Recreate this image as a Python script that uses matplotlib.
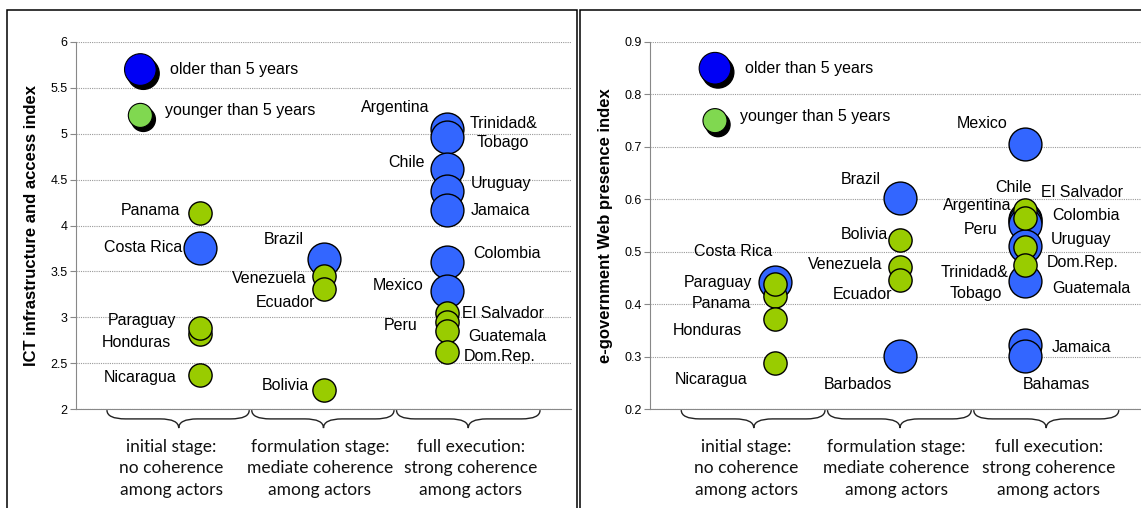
import matplotlib
matplotlib.use("Agg")
import matplotlib.pyplot as plt
from matplotlib.path import Path
from matplotlib.patches import PathPatch, Rectangle
from matplotlib import transforms

plt.rcParams['font.family'] = ['Liberation Sans', 'DejaVu Sans']

# ---------- datos: panel izquierdo (ICT infrastructure and access index) ----------
ict_old_names = ['Costa Rica', 'Brazil', 'Argentina', 'Trinidad&Tobago', 'Chile', 'Uruguay',
                 'Jamaica', 'Colombia', 'Mexico']
ict_old_stage = [1, 2, 3, 3, 3, 3, 3, 3, 3]
ict_old_vals = [3.75, 3.64, 5.05, 4.97, 4.62, 4.38, 4.17, 3.60, 3.29]

ict_young_names = ['Panama', 'Honduras', 'Paraguay', 'Nicaragua', 'Venezuela', 'Ecuador', 'Bolivia',
                   'El Salvador', 'Peru', 'Guatemala', 'Dom.Rep.']
ict_young_stage = [1, 1, 1, 1, 2, 2, 2, 3, 3, 3, 3]
ict_young_vals = [4.14, 2.82, 2.88, 2.37, 3.45, 3.31, 2.21, 3.05, 2.95, 2.85, 2.62]

# ---------- datos: panel derecho (e-government Web presence index) ----------
web_old_names = ['Costa Rica', 'Brazil', 'Barbados', 'Mexico', 'Chile', 'Argentina', 'Colombia',
                 'Uruguay', 'Trinidad&Tobago', 'Jamaica', 'Bahamas']
web_old_stage = [1, 2, 2, 3, 3, 3, 3, 3, 3, 3, 3]
web_old_vals = [0.442, 0.602, 0.301, 0.705, 0.562, 0.558, 0.553, 0.510, 0.445, 0.322, 0.301]

web_young_names = ['Panama', 'Paraguay', 'Honduras', 'Nicaragua', 'Bolivia', 'Venezuela', 'Ecuador',
                   'El Salvador', 'Peru', 'Guatemala', 'Dom.Rep.']
web_young_stage = [1, 1, 1, 1, 2, 2, 2, 3, 3, 3, 3]
web_young_vals = [0.416, 0.438, 0.372, 0.288, 0.522, 0.470, 0.446, 0.580, 0.564, 0.509, 0.475]

stage_labels = ['initial stage:\nno coherence\namong actors',
                'formulation stage:\nmediate coherence\namong actors',
                'full execution:\nstrong coherence\namong actors']
legend_labels = ['older than 5 years', 'younger than 5 years']

# etiquetas de países: (texto, x, y, alineación)
ict_labels = [
    ('Panama', 0.84, 4.16, 'right'), ('Costa Rica', 0.86, 3.76, 'right'),
    ('Paraguay', 0.81, 2.97, 'right'), ('Honduras', 0.77, 2.72, 'right'),
    ('Nicaragua', 0.81, 2.34, 'right'),
    ('Brazil', 1.84, 3.85, 'right'), ('Venezuela', 1.86, 3.42, 'right'),
    ('Ecuador', 1.93, 3.16, 'right'), ('Bolivia', 1.88, 2.26, 'right'),
    ('Argentina', 2.86, 5.29, 'right'), ('Trinidad&', 3.18, 5.11, 'left'),
    ('Tobago', 3.24, 4.90, 'left'), ('Chile', 2.82, 4.69, 'right'),
    ('Uruguay', 3.19, 4.46, 'left'), ('Jamaica', 3.19, 4.16, 'left'),
    ('Colombia', 3.21, 3.70, 'left'), ('Mexico', 2.81, 3.35, 'right'),
    ('El Salvador', 3.12, 3.04, 'left'), ('Peru', 2.76, 2.91, 'right'),
    ('Guatemala', 3.17, 2.79, 'left'), ('Dom.Rep.', 3.13, 2.57, 'left'),
]
web_labels = [
    ('Costa Rica', 0.98, 0.500, 'right'), ('Paraguay', 0.82, 0.442, 'right'),
    ('Panama', 0.81, 0.402, 'right'), ('Honduras', 0.74, 0.349, 'right'),
    ('Nicaragua', 0.78, 0.257, 'right'),
    ('Brazil', 1.85, 0.637, 'right'), ('Bolivia', 1.90, 0.532, 'right'),
    ('Venezuela', 1.86, 0.475, 'right'), ('Ecuador', 1.94, 0.419, 'right'),
    ('Barbados', 1.66, 0.246, 'center'),
    ('Mexico', 2.86, 0.744, 'right'), ('Chile', 2.91, 0.622, 'center'),
    ('El Salvador', 3.13, 0.612, 'left'), ('Argentina', 2.89, 0.589, 'right'),
    ('Colombia', 3.22, 0.570, 'left'), ('Peru', 2.78, 0.543, 'right'),
    ('Uruguay', 3.21, 0.524, 'left'), ('Dom.Rep.', 3.17, 0.479, 'left'),
    ('Trinidad&', 2.87, 0.460, 'right'), ('Tobago', 2.82, 0.420, 'right'),
    ('Guatemala', 3.22, 0.430, 'left'), ('Jamaica', 3.21, 0.318, 'left'),
    ('Bahamas', 3.25, 0.246, 'center'),
]

# llaves bajo el eje: (inicio, fin, punta)
braces = [(0.25, 1.40, 0.83), (1.42, 2.57, 2.0), (2.59, 3.75, 3.17)]
stage_label_x = [0.77, 1.97, 3.19]

OLD = '#3366FF'
YOUNG = '#99CC00'
OLD_KEY = '#0000F5'
YOUNG_KEY = '#80D850'


def dibujar_llave(ax, x0, x1, xc):
    t = ax.get_xaxis_transform()
    q = 0.15
    y0, y1, y2 = -0.003, -0.027, -0.052
    verts = [(x0, y0), (x0, y1), (x0 + q, y1), (xc - q, y1), (xc, y1), (xc, y2),
             (xc, y1), (xc + q, y1), (x1 - q, y1), (x1, y1), (x1, y0)]
    codes = [Path.MOVETO, Path.CURVE3, Path.CURVE3, Path.LINETO, Path.CURVE3, Path.CURVE3,
             Path.CURVE3, Path.CURVE3, Path.LINETO, Path.CURVE3, Path.CURVE3]
    ax.add_patch(PathPatch(Path(verts, codes), transform=t, fill=False,
                           edgecolor='#222222', linewidth=1.0, clip_on=False))


def panel(ax, fig, old_s, old_v, young_s, young_v, labels, ylim, yticks, fmt, ylabel, key_y):
    ax.set_xlim(0, 4)
    ax.set_ylim(*ylim)
    ax.set_yticks(yticks)
    ax.set_yticklabels([fmt.format(v) for v in yticks], fontsize=9)
    ax.set_xticks([])
    ax.grid(axis='y', color='#999999', linestyle=(0, (1, 1)), linewidth=0.8)
    ax.set_axisbelow(True)
    for s in ['top', 'right']:
        ax.spines[s].set_visible(False)
    ax.spines['left'].set_color('#888888')
    ax.spines['bottom'].set_color('#888888')
    ax.tick_params(axis='y', length=4, color='#888888', pad=2)
    ax.set_ylabel(ylabel, fontsize=12, fontweight='bold', labelpad=8)

    ax.scatter(old_s, old_v, s=560, color=OLD, edgecolor='black', linewidth=1.0, zorder=3)
    ax.scatter(young_s, young_v, s=280, color=YOUNG, edgecolor='black', linewidth=1.0, zorder=4)

    # leyenda dibujada dentro del gráfico, con sombra negra
    sombra = transforms.offset_copy(ax.transData, fig=fig, x=3, y=-4, units='dots')
    kx = [0.52, 0.52]
    ax.scatter(kx, key_y, s=[520, 300], color='black', transform=sombra, zorder=3)
    ax.scatter(kx, key_y, s=[520, 300], color=[OLD_KEY, YOUNG_KEY], edgecolor='black',
               linewidth=0.8, zorder=4)
    ax.text(0.76, key_y[0], legend_labels[0], fontsize=11.5, va='center')
    ax.text(0.72, key_y[1] + (ylim[1] - ylim[0]) * 0.012, legend_labels[1], fontsize=11.5, va='center')

    for txt, x, y, ha in labels:
        ax.text(x, y, txt, fontsize=11.5, ha=ha, va='center')

    for x0, x1, xc in braces:
        dibujar_llave(ax, x0, x1, xc)
    for x, lab in zip(stage_label_x, stage_labels):
        ax.text(x, -0.081, lab, transform=ax.get_xaxis_transform(), ha='center', va='top',
                fontsize=12.5, family='Lato', linespacing=1.42, color='#111111')


fig = plt.figure(figsize=(11.41, 5.08), dpi=100)
ax1 = fig.add_axes([76 / 1141, 99 / 508, 495 / 1141, 367 / 508])
ax2 = fig.add_axes([650 / 1141, 99 / 508, 500 / 1141, 367 / 508])

panel(ax1, fig, ict_old_stage, ict_old_vals, ict_young_stage, ict_young_vals, ict_labels,
      (2, 6), [2, 2.5, 3, 3.5, 4, 4.5, 5, 5.5, 6], '{:g}',
      'ICT infrastructure and access index', [5.7, 5.2])
panel(ax2, fig, web_old_stage, web_old_vals, web_young_stage, web_young_vals, web_labels,
      (0.2, 0.9), [0.2, 0.3, 0.4, 0.5, 0.6, 0.7, 0.8, 0.9], '{:.1f}',
      'e-government Web presence index', [0.85, 0.75])

# marcos de cada panel
fig.add_artist(Rectangle((7 / 1141, -0.1), 570 / 1141, 1.1 - 10 / 508, transform=fig.transFigure,
                         fill=False, edgecolor='black', linewidth=1.1))
fig.add_artist(Rectangle((580 / 1141, -0.1), 600 / 1141, 1.1 - 10 / 508, transform=fig.transFigure,
                         fill=False, edgecolor='black', linewidth=1.1))

fig.savefig('out.png', dpi=100)
